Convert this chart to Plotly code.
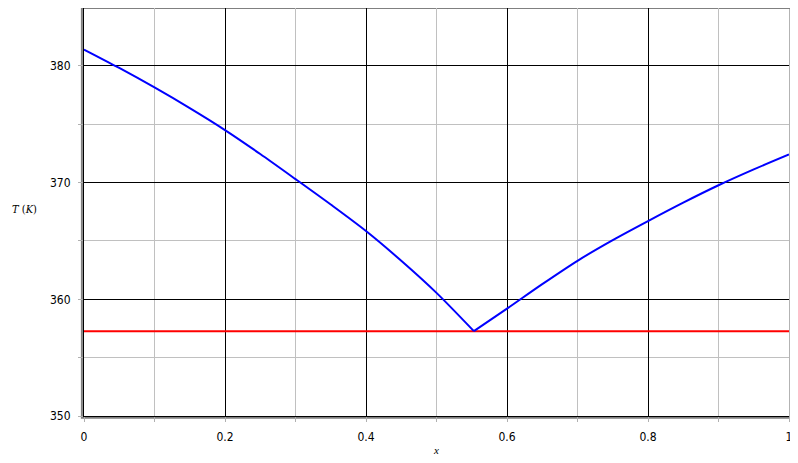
import plotly.graph_objects as go

# left branch of the T-x curve
x_left = [0.0, 0.05, 0.1, 0.15, 0.2, 0.25, 0.3, 0.35, 0.4, 0.45, 0.5, 0.553]
t_left = [381.4, 379.82, 378.15, 376.38, 374.5, 372.45, 370.3, 368.12, 365.85, 363.3, 360.55, 357.27]

# right branch
x_right = [0.553, 0.6, 0.65, 0.7, 0.75, 0.8, 0.85, 0.9, 0.95, 1.0]
t_right = [357.27, 359.2, 361.3, 363.3, 365.07, 366.7, 368.28, 369.77, 371.13, 372.41]

# horizontal line
x_flat = [0.0, 1.0]
t_flat = [357.27, 357.27]

x_ticks = [0, 0.2, 0.4, 0.6, 0.8, 1]
x_labels = ["0", "0.2", "0.4", "0.6", "0.8", "1"]
y_ticks = [350, 360, 370, 380]

fig = go.Figure()
fig.add_trace(go.Scatter(x=x_flat, y=t_flat, mode="lines",
                         line=dict(color="#ff0000", width=2), showlegend=False))
for xs, ts in [(x_left, t_left), (x_right, t_right)]:
    fig.add_trace(go.Scatter(x=xs, y=ts, mode="lines",
                             line=dict(color="#0000ff", width=2, shape="spline", smoothing=0.8),
                             showlegend=False))

axis_common = dict(
    showgrid=True, gridcolor="#000000", gridwidth=1,
    showline=True, linecolor="#000000", linewidth=1,
    ticks="outside", ticklen=5, tickcolor="#b0b0b0",
    tickfont=dict(family="DejaVu Sans Condensed, Liberation Sans", size=12, color="#000000"),
    zeroline=False,
    minor=dict(showgrid=True, gridcolor="#c0c0c0", gridwidth=1,
               ticks="outside", ticklen=5, tickcolor="#b0b0b0"),
)

fig.update_xaxes(range=[0, 1], tickvals=x_ticks, ticktext=x_labels,
                 minor_dtick=0.1, ticklabelstandoff=5, **axis_common)
fig.update_yaxes(range=[350, 384.96], tickvals=y_ticks, minor_dtick=5,
                 ticklabelstandoff=5, **axis_common)

# grey frame around the plot area
fig.add_shape(type="rect", xref="paper", yref="paper", x0=-0.003, x1=1.002, y0=-0.004, y1=1.0,
              line=dict(color="#808080", width=2), layer="below")

fig.add_annotation(text="<i>T</i> (<i>K</i>)", xref="paper", yref="paper",
                   x=-0.105, y=0.505, xanchor="left", showarrow=False,
                   font=dict(family="DejaVu Serif Condensed, Liberation Serif", size=11, color="#000000"))
fig.add_annotation(text="<i>x</i>", xref="paper", yref="paper",
                   x=0.499, y=-0.083, yanchor="middle", showarrow=False,
                   font=dict(family="Liberation Serif", size=11, color="#000000"))

# the page body adds an 8px offset, so the figure is sized to sit inside the window
fig.update_layout(
    width=790, height=455,
    margin=dict(l=76, r=9, t=0, b=47),
    plot_bgcolor="#ffffff", paper_bgcolor="#ffffff",
)

fig.write_html("out.html")
